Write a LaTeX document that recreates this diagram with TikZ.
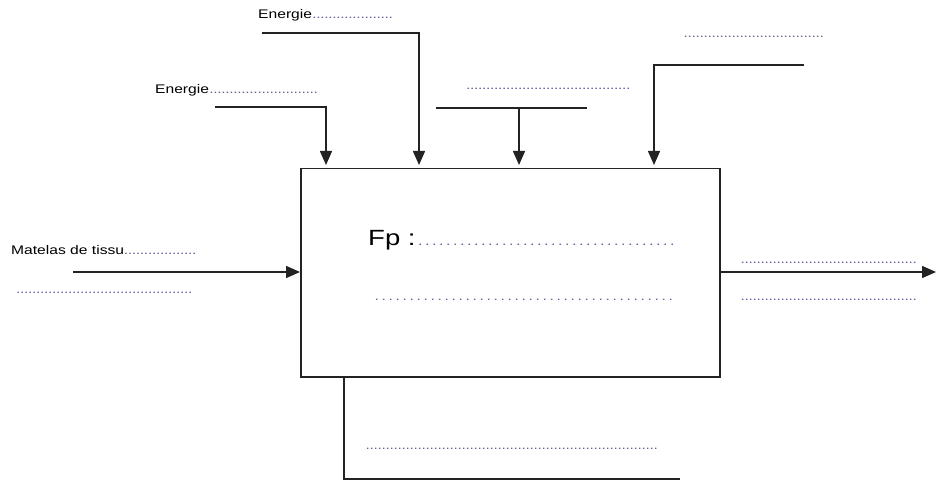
\documentclass[tikz,border=0pt]{standalone}
\usepackage{fontspec}
\setmainfont{Liberation Sans}[FakeStretch=1.25]
\usetikzlibrary{arrows.meta}
\definecolor{dotc}{RGB}{105,95,150}
\definecolor{linec}{RGB}{35,35,35}
\newcommand{\dotrow}[2]{\hbox to #1{\textcolor{dotc}{\cleaders\hbox to #2{\hss.\hss}\hfill}}}
\newcommand{\labrow}[3]{\hbox to #1{#3\textcolor{dotc}{\cleaders\hbox to #2{\hss.\hss}\hfill}}}
\newcommand{\smalldots}{\fontsize{13}{15}\selectfont}
\tikzset{
  conn/.style={draw=linec, line width=1.5pt},
  arr/.style={conn, -{Triangle[length=14pt,width=12pt]}},
  lab/.style={inner sep=0pt, anchor=base west, font=\fontsize{12.5}{15}\selectfont},
  big/.style={inner sep=0pt, anchor=base west, font=\fontsize{22}{26}\selectfont},
}
\begin{document}
\begin{tikzpicture}[x=1pt,y=-1pt]
\useasboundingbox (0,0) rectangle (936,481);
% main box
\node[draw=linec, line width=1.5pt, minimum width=419pt, minimum height=208pt, inner sep=0pt, anchor=north west] (box) at (300,168) {};
% texts
\node[lab] (en1) at (155,94) {\labrow{163pt}{4pt}{Energie}};
\node[lab] (en2) at (258,19) {\labrow{135pt}{4pt}{Energie}};
\node[lab] (mat) at (11,254) {\labrow{185pt}{4pt}{Matelas de tissu}};
\node[lab] (d1) at (466,90) {\dotrow{164pt}{4pt}};
\node[lab] (d2) at (682,38) {\dotrow{143pt}{4pt}};
\node[lab] (d3) at (15,293) {\dotrow{178pt}{4pt}};
\node[lab] (d4) at (739,263) {\dotrow{179pt}{4pt}};
\node[lab] (d5) at (739,300) {\dotrow{179pt}{4pt}};
\node[lab] (d6) at (365,449) {\dotrow{293pt}{4pt}};
\node[big] (fp) at (368,245) {\labrow{309pt}{7pt}{Fp :\smalldots}};
\node[lab] (fp2) at (370,300) {\dotrow{307pt}{7pt}};
% connector coordinates
\coordinate (a1) at (215,107);
\coordinate (t1) at (326,165);
\coordinate (a2) at (262,33);
\coordinate (t2) at (419,165);
\coordinate (a3l) at (436,108);
\coordinate (a3r) at (587,108);
\coordinate (a3m) at (519,108);
\coordinate (t3) at (519,165);
\coordinate (a4) at (804,65);
\coordinate (t4) at (654,165);
\coordinate (inp) at (73,272);
\coordinate (outp) at (936,272);
\coordinate (b0) at (344,376);
\coordinate (b1) at (680,479);
% connectors
\draw[arr] (a1) -| (t1);
\draw[arr] (a2) -| (t2);
\draw[conn] (a3l) -- (a3r);
\draw[arr] (a3m) -- (t3);
\draw[arr] (a4) -| (t4);
\draw[arr] (inp) -- (inp -| box.west);
\draw[arr] (box.east |- outp) -- (outp);
\draw[conn] (b0) |- (b1);
\end{tikzpicture}
\end{document}
